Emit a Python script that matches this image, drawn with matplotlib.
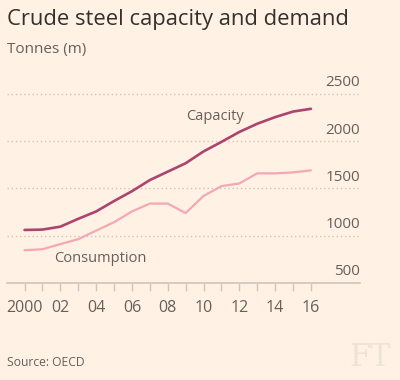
import matplotlib
matplotlib.use("Agg")
import matplotlib.pyplot as plt

# Crude steel capacity and consumption, tonnes (m)
years = list(range(2000, 2017))
capacity = [1061, 1065, 1096, 1179, 1257, 1367, 1471, 1589, 1678, 1767,
            1892, 1993, 2098, 2185, 2255, 2314, 2343]
consumption = [847, 857, 911, 964, 1054, 1143, 1257, 1340, 1340, 1240,
               1421, 1525, 1553, 1660, 1660, 1670, 1692]
y_ticks = [500, 1000, 1500, 2000, 2500]
x_tick_years = list(range(2000, 2017, 2))
x_tick_labels = ["2000", "02", "04", "06", "08", "10", "12", "14", "16"]

BG = "#FFF1E3"
GRID = "#CEC6BC"
TEXT = "#66605C"
CAP = "#AC4470"
CON = "#F3A8B4"

plt.rcParams["font.family"] = ["Open Sans", "DejaVu Sans"]

fig = plt.figure(figsize=(4, 3.8), dpi=100, facecolor=BG)
ax = fig.add_axes([0.0175, 0.2553, 0.8825, 0.4974], facecolor=BG)

ax.plot(years, capacity, color=CAP, lw=1.9, solid_capstyle="round")
ax.plot(years, consumption, color=CON, lw=1.6, solid_capstyle="round")

ax.set_xlim(1999.02, 2018.74)
ax.set_ylim(500, 2500)

# dotted gridlines with labels sitting above them on the right
for v in y_ticks:
    if v > 500:
        ax.axhline(v, color=GRID, lw=1.0, ls=(0, (1, 2)), clip_on=False, zorder=0)
    ax.annotate(str(v), xy=(1, v), xycoords=("axes fraction", "data"),
                xytext=(0, 8), textcoords="offset points",
                ha="right", va="center", fontsize=11, color=TEXT)

for s in ["top", "right", "left"]:
    ax.spines[s].set_visible(False)
ax.spines["bottom"].set_color(GRID)
ax.spines["bottom"].set_linewidth(1.2)

ax.set_yticks([])
ax.set_xticks(years, minor=True)
ax.set_xticks(x_tick_years)
ax.set_xticklabels(x_tick_labels)
ax.tick_params(axis="x", which="both", length=6, width=1, color=GRID,
               pad=6, labelsize=11.5, labelcolor=TEXT)
ax.tick_params(axis="x", which="minor", labelbottom=False)

ax.text(2009.0, 2263, "Capacity", fontsize=10.5, color=TEXT, va="center")
ax.text(2001.65, 755, "Consumption", fontsize=10.5, color=TEXT, va="center")

fig.text(7 / 400, 1 - 20 / 380, "Crude steel capacity and demand",
         fontsize=15.8, color="#33302E", va="center")
fig.text(7 / 400, 1 - 49 / 380, "Tonnes (m)", fontsize=11, color=TEXT, va="center")
fig.text(7 / 400, 1 - 362 / 380, "Source: OECD", fontsize=8.7, color=TEXT, va="center")
fig.text(391 / 400, 1 - 358 / 380, "FT", fontsize=22, color="#EDE3D7",
         family="DejaVu Serif", ha="right", va="center")

fig.savefig("out.png", dpi=100, facecolor=BG)
